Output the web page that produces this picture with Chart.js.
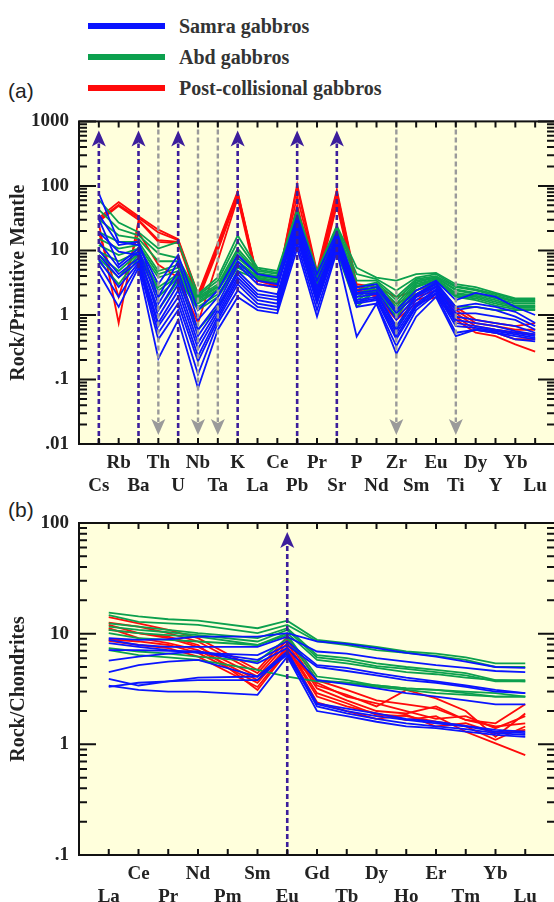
<!DOCTYPE html>
<html><head><meta charset="utf-8">
<script src="https://cdn.jsdelivr.net/npm/chart.js@4.4.0/dist/chart.umd.min.js"></script>
<style>
html,body{margin:0;padding:0;background:#fff;width:554px;height:902px;overflow:hidden;}
body{position:relative;}
canvas{position:absolute;left:0;}
.leg{position:absolute;left:0;height:0;width:554px;}
.leg .ln{position:absolute;left:88px;width:77px;height:6px;top:-3px;}
.leg .tx{position:absolute;left:179px;top:-13px;font:bold 20px "Liberation Serif","Times New Roman",serif;color:#333;white-space:nowrap;line-height:26px;}
.plab{position:absolute;left:8px;font:21px "Liberation Sans",Arial,sans-serif;color:#222;line-height:24px;}
</style></head>
<body>
<div class="leg" style="top:26px"><div class="ln" style="background:#0a14ff"></div><div class="tx">Samra gabbros</div></div>
<div class="leg" style="top:57px"><div class="ln" style="background:#0ca04e"></div><div class="tx">Abd gabbros</div></div>
<div class="leg" style="top:88px"><div class="ln" style="background:#ff0a0a"></div><div class="tx">Post-collisional gabbros</div></div>
<div class="plab" style="top:79px">(a)</div>
<div class="plab" style="top:498px">(b)</div>
<canvas id="ca" width="555" height="400" style="top:100px"></canvas>
<canvas id="cb" width="555" height="402" style="top:500px"></canvas>
<script>
// ---------- data ----------
const elementsA = ['Cs','Rb','Ba','Th','U','Nb','Ta','K','La','Ce','Pb','Pr','Sr','P','Nd','Zr','Sm','Eu','Ti','Dy','Y','Yb','Lu'];
const yTicksA = [0.01, 0.1, 1, 10, 100, 1000];
const yTickLabelsA = ['.01', '.1', '1', '10', '100', '1000'];
const purpleA = ['Cs','Ba','U','K','Pb','Sr'];
const grayA = ['Th','Nb','Ta','Zr','Ti'];

const samraA = [
  [77, 13.6, 12.1, 3.0, 8.5, 1.19, 2.4, 8.5, 4.3, 3.8, 34, 4.3, 19.2, 2.7, 3.0, 1.19, 2.4, 3.4, 1.7, 2.2, 1.9, 1.33, 1.0],
  [36, 12.1, 13.6, 1.9, 6.8, 0.84, 1.9, 6.8, 3.4, 3.0, 30.5, 3.4, 17.1, 2.4, 2.7, 1.06, 2.1, 3.2, 1.33, 1.5, 1.33, 1.12, 0.75],
  [30.5, 6.0, 10.7, 1.5, 4.8, 0.59, 1.5, 6.0, 3.0, 2.7, 27, 2.7, 16.1, 2.2, 2.4, 0.84, 2.0, 3.0, 1.19, 1.33, 1.19, 0.94, 0.67],
  [19.2, 9.6, 8.5, 1.19, 3.8, 0.47, 1.33, 4.8, 2.4, 2.1, 24.2, 2.4, 15.2, 2.1, 2.2, 0.67, 1.9, 2.8, 1.06, 1.06, 0.94, 0.84, 0.59],
  [13.6, 5.4, 9.6, 0.94, 3.0, 0.37, 1.19, 4.3, 2.1, 1.9, 21.5, 2.1, 14.4, 1.9, 2.1, 0.59, 1.7, 2.7, 0.94, 0.84, 0.75, 0.67, 0.53],
  [10.1, 4.3, 7.6, 0.75, 2.4, 0.30, 1.06, 3.8, 1.9, 1.7, 19.2, 1.9, 13.6, 1.7, 1.9, 0.53, 1.5, 2.5, 0.84, 0.75, 0.67, 0.56, 0.50],
  [8.5, 3.8, 6.8, 0.67, 1.9, 0.23, 0.94, 3.4, 1.7, 1.5, 17.1, 1.7, 12.8, 1.6, 1.8, 0.47, 1.4, 2.4, 0.75, 0.67, 0.59, 0.53, 0.47],
  [7.2, 2.7, 6.4, 0.53, 1.5, 0.19, 0.84, 3.0, 1.5, 1.33, 15.2, 1.5, 12.1, 1.5, 1.7, 0.42, 1.33, 2.2, 0.67, 0.63, 0.56, 0.50, 0.44],
  [6.0, 1.9, 6.0, 0.42, 1.19, 0.12, 0.75, 2.4, 1.33, 1.19, 12.8, 1.19, 10.7, 1.33, 1.5, 0.33, 1.19, 2.1, 0.53, 0.59, 0.53, 0.47, 0.42],
  [4.5, 1.33, 5.4, 0.21, 0.84, 0.073, 0.59, 1.9, 1.19, 1.06, 10.7, 0.94, 9.6, 0.46, 1.5, 0.25, 0.94, 1.9, 0.47, 0.59, 0.53, 0.42, 0.39]
];
const abdA = [
  [61, 27, 19.2, 10.7, 13.6, 2.1, 3.8, 17.1, 5.4, 4.8, 43, 4.8, 24.2, 5.4, 3.8, 3.4, 4.3, 4.5, 3.0, 2.7, 2.2, 1.8, 1.8],
  [43, 21.5, 17.1, 9.0, 7.6, 2.0, 3.4, 13.6, 5.1, 4.5, 38, 4.3, 22.8, 4.3, 3.6, 2.4, 3.8, 4.3, 2.8, 2.5, 2.1, 1.75, 1.75],
  [30.5, 17.1, 15.2, 6.8, 6.8, 1.9, 3.0, 10.7, 4.8, 4.3, 34, 4.0, 21.5, 3.4, 3.4, 1.9, 3.6, 4.0, 2.7, 2.4, 2.0, 1.65, 1.65],
  [19.2, 13.6, 13.6, 4.8, 6.0, 1.8, 2.8, 9.6, 4.5, 4.0, 30.5, 3.8, 20.3, 2.7, 3.2, 1.7, 3.4, 3.8, 2.5, 2.2, 1.9, 1.6, 1.6],
  [15.2, 10.7, 12.1, 4.3, 5.4, 1.7, 2.7, 8.5, 4.3, 4.0, 29, 3.6, 19.2, 2.4, 3.0, 1.5, 3.2, 3.8, 2.4, 2.1, 1.8, 1.5, 1.5],
  [12.1, 8.5, 10.7, 3.8, 4.8, 1.6, 2.5, 7.6, 4.3, 3.8, 27, 3.4, 18.1, 2.1, 2.8, 1.33, 3.0, 3.6, 2.2, 2.0, 1.7, 1.4, 1.4],
  [9.6, 6.8, 9.6, 2.7, 4.3, 1.5, 2.4, 6.8, 4.0, 3.8, 25.6, 3.2, 17.1, 1.9, 2.7, 1.19, 2.8, 3.6, 2.1, 1.9, 1.6, 1.36, 1.36],
  [8.5, 4.8, 9.0, 2.4, 4.0, 1.33, 2.1, 6.0, 4.0, 3.6, 24.2, 3.0, 15.2, 1.7, 2.5, 1.06, 2.7, 3.4, 2.0, 1.8, 1.5, 1.3, 1.3],
  [7.6, 3.8, 8.5, 1.9, 3.8, 1.19, 1.9, 5.4, 3.8, 3.4, 22.8, 2.7, 13.6, 1.5, 2.4, 0.94, 2.4, 3.2, 1.9, 1.7, 1.4, 1.23, 1.23],
  [6.8, 3.0, 7.6, 1.19, 3.4, 0.59, 1.33, 4.8, 3.6, 3.2, 21.5, 2.4, 9.6, 1.33, 2.4, 0.59, 2.1, 3.0, 1.33, 1.33, 1.19, 1.19, 1.19]
];
const postA = [
  [32, 56, 34, 21, 15, 2.1, 13, 82, 3.8, 3.0, 105, 4.7, 87, 3.0, 2.7, 1.9, 2.4, 3.0, 1.33, 0.84, 0.75, 0.67, 0.75],
  [30, 51, 32, 19, 14.4, 2.0, 12, 78, 3.6, 3.0, 95, 4.3, 80, 2.8, 2.4, 1.5, 2.1, 2.7, 1.19, 0.75, 0.67, 0.59, 0.59],
  [28, 49, 30, 14.4, 13.6, 1.9, 11, 75, 3.6, 2.8, 70, 3.8, 70, 2.7, 2.1, 1.19, 1.9, 2.4, 1.06, 0.67, 0.59, 0.53, 0.50],
  [26, 0.75, 29, 13.6, 13.0, 1.7, 10, 70, 3.4, 2.8, 50, 3.4, 60, 2.5, 2.0, 0.94, 1.7, 2.1, 0.94, 0.59, 0.53, 0.42, 0.42],
  [19, 1.9, 19, 6.0, 3.8, 0.75, 7, 65, 3.0, 2.7, 40, 3.0, 50, 2.4, 1.9, 0.84, 1.5, 1.9, 0.84, 0.53, 0.47, 0.35, 0.27]
];

const elementsB = ['La','Ce','Pr','Nd','Pm','Sm','Eu','Gd','Tb','Dy','Ho','Er','Tm','Yb','Lu'];
const yTicksB = [0.1, 1, 10, 100];
const yTickLabelsB = ['.1', '1', '10', '100'];
const purpleB = ['Eu'];
const grayB = [];

const samraB = [
  [9.1, 8.8, 8.9, 9.4, null, 9.4, 10.1, 8.5, 8.1, 7.4, 6.7, 6.2, 5.6, 5.0, 4.9],
  [8.8, 7.9, 7.6, 7.6, null, 7.6, 9.4, 6.9, 6.6, 6.0, 5.6, 5.2, 4.9, 4.6, 4.5],
  [8.2, 7.6, 7.1, 6.7, null, 6.4, 8.5, 5.2, 4.9, 4.4, 4.0, 3.7, 3.4, 3.1, 2.9],
  [7.1, 7.1, 7.0, 6.9, null, 5.8, 7.9, 5.0, 4.6, 4.2, 3.8, 3.6, 3.3, 3.0, 2.9],
  [5.7, 6.2, 6.6, 6.9, null, 5.4, 7.4, 3.8, 3.5, 3.2, 2.9, 2.7, 2.5, 2.3, 2.3],
  [4.5, 5.2, 5.6, 5.8, null, 4.1, 6.9, 2.35, 2.1, 1.9, 1.7, 1.6, 1.47, 1.35, 1.3],
  [3.9, 3.4, 3.7, 4.0, null, 4.1, 6.4, 2.3, 2.0, 1.8, 1.66, 1.55, 1.45, 1.3, 1.26],
  [3.4, 3.1, 3.0, 3.0, null, 2.8, 6.2, 2.0, 1.8, 1.6, 1.45, 1.4, 1.3, 1.22, 1.17],
  [3.3, 3.6, 3.7, 3.8, null, 3.8, 6.7, 2.2, 1.9, 1.7, 1.55, 1.45, 1.37, 1.26, 1.22]
];
const abdB = [
  [15.5, 14.3, 13.5, 13.1, null, 11.2, 13.1, 8.8, 8.2, 7.6, 6.9, 6.6, 6.1, 5.4, 5.4],
  [14.7, 12.8, 12.4, 12.0, null, 10.1, 12.0, 8.5, 7.9, 7.1, 6.7, 6.3, 5.8, 5.0, 5.0],
  [12.4, 11.6, 10.8, 10.1, null, 9.1, 11.2, 6.4, 6.0, 5.4, 5.0, 4.7, 4.4, 3.8, 3.8],
  [11.6, 10.8, 10.3, 9.7, null, 8.5, 10.8, 6.1, 5.7, 5.1, 4.8, 4.5, 4.2, 3.7, 3.7],
  [10.8, 10.1, 9.7, 9.4, null, 7.9, 10.1, 5.8, 5.4, 4.9, 4.5, 4.3, 4.0, 3.8, 3.7],
  [10.1, 9.1, 8.8, 8.5, null, 7.9, 9.7, 4.1, 3.8, 3.4, 3.2, 3.1, 2.9, 2.7, 2.7],
  [7.4, 6.9, 6.6, 6.2, null, 5.6, 9.1, 3.8, 3.6, 3.3, 3.1, 2.9, 2.8, 2.7, 2.7],
  [7.1, 6.4, 6.1, 5.8, null, 4.7, 4.1, 3.7, 3.6, 3.4, 3.2, 3.1, 3.0, 2.9, 2.7]
];
const postB = [
  [14.1, 12.4, 10.8, 9.1, null, 4.7, 9.4, 3.8, 3.1, 2.5, 2.3, 2.1, 1.66, 1.55, 2.3],
  [12.6, 11.6, 10.1, 8.5, null, 4.4, 8.8, 3.4, 2.8, 2.2, 3.1, 2.6, 2.0, 1.17, 1.9],
  [12.0, 10.1, 9.1, 7.6, null, 4.1, 8.2, 3.2, 2.5, 2.0, 1.9, 2.2, 1.66, 1.45, 1.55],
  [11.2, 9.1, 8.2, 7.1, null, 3.8, 7.6, 2.9, 2.35, 1.85, 1.8, 1.6, 1.45, 1.10, 1.45],
  [8.9, 8.5, 7.9, 6.7, null, 3.6, 7.4, 2.7, 2.2, 1.9, 1.66, 1.8, 1.3, 1.02, 0.80],
  [8.6, 7.9, 7.4, 6.2, null, 3.3, 7.1, 2.4, 2.0, 1.7, 1.85, 1.45, 1.55, 1.26, 1.35],
  [10.8, 10.1, 9.4, 7.9, null, 3.1, 6.9, 3.6, 2.7, 2.35, 2.0, 1.7, 1.8, 1.4, 1.8]
];

// ---------- styles ----------
const BLUE = '#0a14ff', GREEN = '#0ca04e', RED = '#ff0a0a';
const PURPLE = '#3c1e9c', GRAY = '#9a9a9a';
const BG = '#ffffdc';
const FONT = '"Liberation Serif","Times New Roman",serif';

function makeSets(groups) {
  const out = [];
  groups.forEach(([rows, color]) => {
    rows.forEach(vals => out.push({
      data: vals.map((v, i) => ({x: i, y: v})),
      borderColor: color, borderWidth: 1.8, pointRadius: 0, pointHoverRadius: 0,
      fill: false, tension: 0, spanGaps: true
    }));
  });
  return out;
}

const framePlugin = {
  id: 'frame',
  beforeDraw(chart) {
    const {ctx, chartArea: a} = chart;
    ctx.save();
    ctx.fillStyle = BG;
    ctx.fillRect(a.left, a.top, a.right - a.left, a.bottom - a.top);
    ctx.restore();
  },
  afterDatasetsDraw(chart, args, o) {
    const {ctx, chartArea: a, scales: {x}} = chart;
    ctx.save();
    o.purple.forEach(name => {
      const px = x.getPixelForValue(o.cats.indexOf(name));
      ctx.strokeStyle = PURPLE; ctx.lineWidth = 2.6; ctx.setLineDash([5, 3]);
      ctx.beginPath(); ctx.moveTo(px, a.bottom); ctx.lineTo(px, a.top + 22); ctx.stroke();
      ctx.setLineDash([]); ctx.fillStyle = PURPLE;
      ctx.beginPath(); ctx.moveTo(px, a.top + 9); ctx.lineTo(px + 7, a.top + 25);
      ctx.lineTo(px, a.top + 21); ctx.lineTo(px - 7, a.top + 25); ctx.closePath(); ctx.fill();
    });
    o.gray.forEach(name => {
      const px = x.getPixelForValue(o.cats.indexOf(name));
      ctx.strokeStyle = GRAY; ctx.lineWidth = 2.4; ctx.setLineDash([5, 3]);
      ctx.beginPath(); ctx.moveTo(px, a.top); ctx.lineTo(px, a.bottom - 22); ctx.stroke();
      ctx.setLineDash([]); ctx.fillStyle = GRAY;
      ctx.beginPath(); ctx.moveTo(px, a.bottom - 9); ctx.lineTo(px + 7, a.bottom - 25);
      ctx.lineTo(px, a.bottom - 21); ctx.lineTo(px - 7, a.bottom - 25); ctx.closePath(); ctx.fill();
    });
    ctx.restore();
  },
  afterDraw(chart, args, o) {
    const {ctx, chartArea: a, scales: {x, y}} = chart;
    ctx.save();
    ctx.strokeStyle = '#111'; ctx.lineWidth = 2;
    ctx.strokeRect(a.left, a.top, a.right - a.left, a.bottom - a.top);
    ctx.beginPath();
    o.cats.forEach((c, i) => {
      const px = x.getPixelForValue(i);
      ctx.moveTo(px, a.bottom); ctx.lineTo(px, a.bottom - 6);
      ctx.moveTo(px, a.top); ctx.lineTo(px, a.top + 6);
    });
    const lo = Math.round(Math.log10(o.ymin)), hi = Math.round(Math.log10(o.ymax));
    for (let e = lo; e <= hi; e++) {
      for (let m = 1; m <= 9; m++) {
        const v = m * Math.pow(10, e);
        if (v > o.ymax * 1.0001) break;
        const py = y.getPixelForValue(v);
        const len = m === 1 ? 17 : 8;
        ctx.moveTo(a.left, py); ctx.lineTo(a.left + len, py);
        ctx.moveTo(a.right, py); ctx.lineTo(a.right - len, py);
      }
    }
    ctx.stroke();
    ctx.restore();
  }
};

function makeChart(id, cats, groups, yTicks, yLabels, title, purple, gray, padTop, xHeight) {
  return new Chart(document.getElementById(id), {
    type: 'line',
    data: {datasets: makeSets(groups)},
    plugins: [framePlugin],
    options: {
      responsive: false, animation: false,
      layout: {padding: {top: padTop, left: 0, right: 0, bottom: 0}},
      plugins: {
        legend: {display: false}, tooltip: {enabled: false},
        frame: {cats, purple, gray, ymin: yTicks[0], ymax: yTicks[yTicks.length - 1]}
      },
      scales: {
        x: {
          type: 'linear', min: -1, max: cats.length,
          grid: {display: false, drawTicks: false}, border: {display: false},
          afterBuildTicks: s => { s.ticks = cats.map((c, i) => ({value: i})); },
          afterFit: s => { s.height = xHeight; },
          ticks: {
            autoSkip: false, maxRotation: 0, minRotation: 0, padding: 8,
            color: '#222', font: {family: FONT, weight: 'bold', size: 19, lineHeight: 1.2},
            callback: v => { const n = cats[v]; if (n === undefined) return ''; return v % 2 === 1 ? [n, ''] : ['', n]; }
          }
        },
        y: {
          type: 'logarithmic', min: yTicks[0], max: yTicks[yTicks.length - 1],
          grid: {display: false, drawTicks: false}, border: {display: false},
          afterBuildTicks: s => { s.ticks = yTicks.map(v => ({value: v})); },
          afterFit: s => { s.width = 79; },
          ticks: {
            autoSkip: false, padding: 10, color: '#222',
            font: {family: FONT, weight: 'bold', size: 19},
            callback: (v, i) => yLabels[i]
          },
          title: {
            display: true, text: title, color: '#222', padding: {top: 7, bottom: 0},
            font: {family: FONT, weight: 'bold', size: 20, lineHeight: 1.2}
          }
        }
      }
    }
  });
}

makeChart('ca', elementsA, [[samraA, BLUE], [abdA, GREEN], [postA, RED]],
  yTicksA, yTickLabelsA, 'Rock/Primitive Mantle', purpleA, grayA, 13, 56);
makeChart('cb', elementsB, [[samraB, BLUE], [abdB, GREEN], [postB, RED]],
  yTicksB, yTickLabelsB, 'Rock/Chondrites', purpleB, grayB, 23, 47);
</script>
</body></html>
